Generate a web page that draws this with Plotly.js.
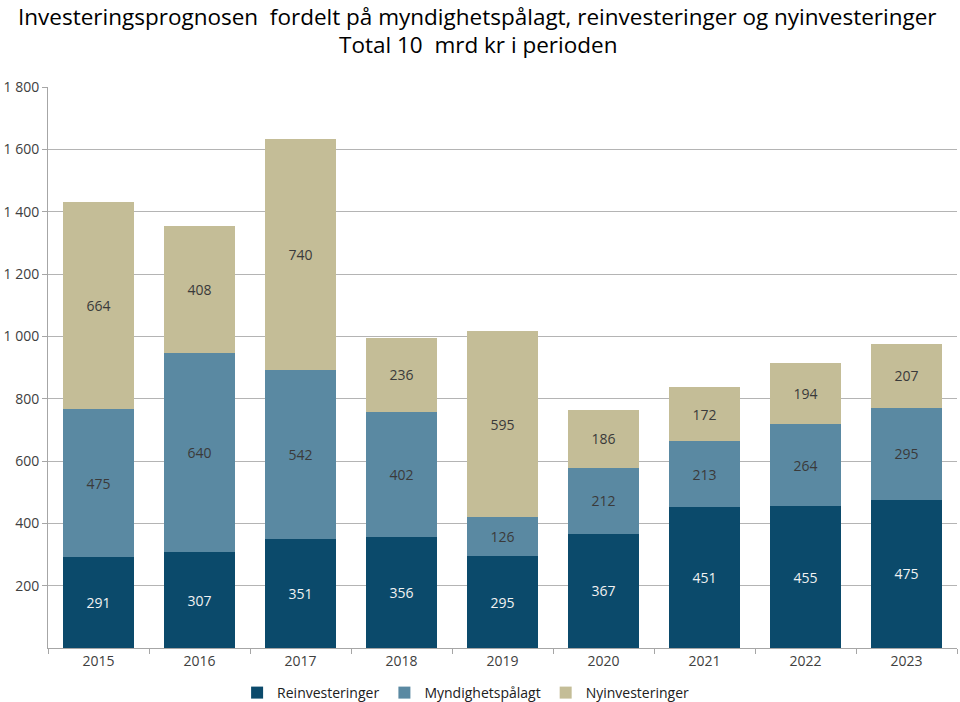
<!DOCTYPE html>
<html>
<head>
<meta charset="utf-8">
<script src="https://cdn.plot.ly/plotly-3.0.1.min.js"></script>
<style>html,body{margin:0;padding:0;background:#fff;}</style>
</head>
<body>
<div id="chart" style="width:960px;height:702px;"></div>
<script>
const years = ['2015','2016','2017','2018','2019','2020','2021','2022','2023'];
const reinvesteringer = [291, 307, 351, 356, 295, 367, 451, 455, 475];
const myndighetspalagt = [475, 640, 542, 402, 126, 212, 213, 264, 295];
const nyinvesteringer = [664, 408, 740, 236, 595, 186, 172, 194, 207];
const yTicks = [200, 400, 600, 800, 1000, 1200, 1400, 1600, 1800];
const titleLines = ['Investeringsprognosen  fordelt på myndighetspålagt, reinvesteringer og nyinvesteringer', 'Total 10  mrd kr i perioden'];

const labelFont = 'Open Sans, sans-serif';
function mk(name, vals, color, textColor) {
  return {
    type: 'bar', name: name, x: years, y: vals,
    marker: {color: color},
    text: vals.map(String), textposition: 'inside', insidetextanchor: 'middle',
    textangle: 0,
    textfont: {family: labelFont, size: 14, color: textColor},
    hoverinfo: 'x+y+name'
  };
}
const data = [
  mk('Reinvesteringer', reinvesteringer, '#0b4a6b', '#f2f2f2'),
  mk('Myndighetspålagt', myndighetspalagt, '#5a89a2', '#3a3a3a'),
  mk('Nyinvesteringer', nyinvesteringer, '#c4bd97', '#3a3a3a')
];
const layout = {
  width: 960, height: 702,
  barmode: 'stack', bargap: 0.3,
  margin: {l: 48, r: 3, t: 87, b: 54, autoexpand: false},
  paper_bgcolor: '#fff', plot_bgcolor: '#fff',
  font: {family: labelFont, color: '#404040'},
  annotations: [
    {text: titleLines[0], xref: 'paper', yref: 'paper', x: 0.473, y: (648-16)/561, xanchor: 'center', yanchor: 'middle', showarrow: false, borderpad: 0,
     font: {family: 'Open Sans, sans-serif', size: 22.5, color: '#000'}},
    {text: titleLines[1], xref: 'paper', yref: 'paper', x: 0.473, y: (648-45)/561, xanchor: 'center', yanchor: 'middle', showarrow: false, borderpad: 0,
     font: {family: 'Open Sans, sans-serif', size: 22.5, color: '#000'}}
  ],
  xaxis: {
    type: 'category', showline: true, linecolor: '#a6a6a6', linewidth: 1,
    ticks: 'outside', tickson: 'boundaries', ticklen: 5, tickcolor: '#a6a6a6',
    tickfont: {family: labelFont, size: 14, color: '#404040'},
    showgrid: false
  },
  yaxis: {
    range: [0, 1800], tickvals: yTicks, ticktext: yTicks.map(v => v >= 1000 ? Math.floor(v/1000) + ' ' + String(v%1000).padStart(3,'0') : String(v)),
    showline: true, linecolor: '#a6a6a6', linewidth: 1,
    ticks: 'outside', ticklen: 5, tickcolor: '#a6a6a6',
    showgrid: true, gridcolor: '#b4b4b4', gridwidth: 1,
    zeroline: false,
    tickfont: {family: labelFont, size: 14, color: '#404040'}
  },
  legend: {
    orientation: 'h', xref: 'container', yref: 'container', x: 0.485, xanchor: 'center', y: 9/702, yanchor: 'middle',
    font: {family: labelFont, size: 14, color: '#202020'},
    itemwidth: 30, traceorder: 'normal'
  },
  showlegend: true
};
Plotly.newPlot('chart', data, layout, {displayModeBar: false, staticPlot: true});
</script>
</body>
</html>
